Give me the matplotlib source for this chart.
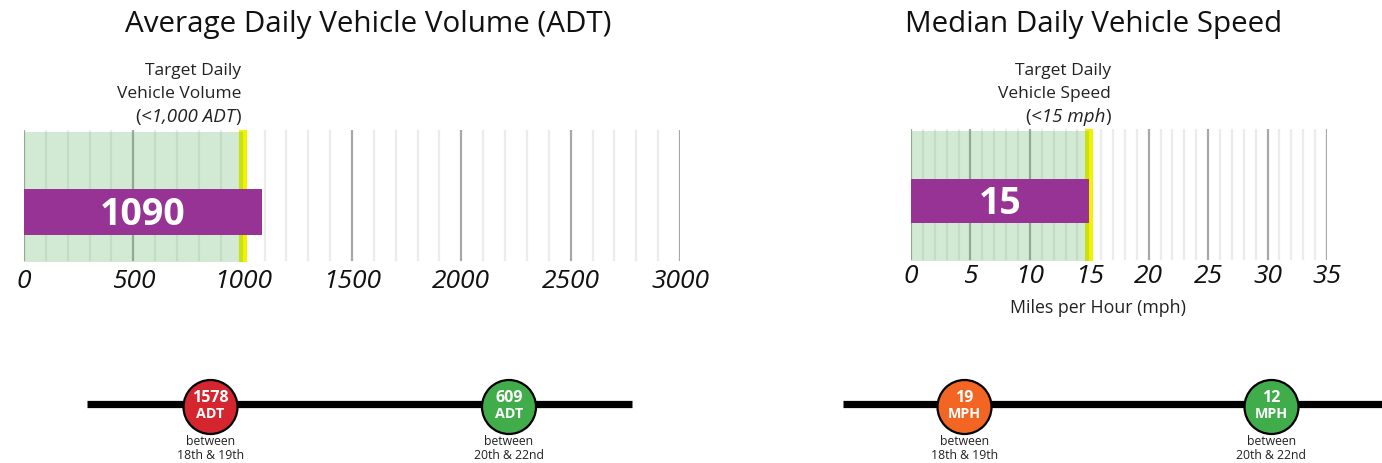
import numpy as np
import matplotlib
matplotlib.use("Agg")
import matplotlib.pyplot as plt
from matplotlib.patches import Circle

plt.rcParams['font.family'] = ['Open Sans', 'DejaVu Sans']

# ---------------- data ----------------
adt_title = "Average Daily Vehicle Volume (ADT)"
adt_value = 1090
adt_target = 1000
adt_ticks = [0, 500, 1000, 1500, 2000, 2500, 3000]
adt_minor_step = 100
adt_target_lines = ["Target Daily", "Vehicle Volume"]
adt_target_value_text = "<1,000 ADT"

speed_title = "Median Daily Vehicle Speed"
speed_value = 15
speed_target = 15
speed_ticks = [0, 5, 10, 15, 20, 25, 30, 35]
speed_minor_step = 1
speed_target_lines = ["Target Daily", "Vehicle Speed"]
speed_target_value_text = "<15 mph"
speed_axis_label = "Miles per Hour (mph)"

location_labels = ["between\n18th & 19th", "between\n20th & 22nd"]
adt_location_values = [1578, 609]
adt_location_colors = ["#d5262f", "#40ad4a"]
adt_unit = "ADT"
speed_location_values = [19, 12]
speed_location_colors = ["#f26522", "#40ad4a"]
speed_unit = "MPH"

# ---------------- styles ----------------
W, H = 1382, 464
PURPLE = "#963394"
MAJOR = "#a8a8a8"
MINOR = "#ececec"
SHADE = "#4caf50"
YELLOW = "#f2f200"

fig = plt.figure(figsize=(W / 100, H / 100), dpi=100)


def px_axes(x0, x1, y0, y1):
    return fig.add_axes([x0 / W, 1 - y1 / H, (x1 - x0) / W, (y1 - y0) / H])


def gauge(ax, ticks, step, value, target, bar_y0, bar_y1, pad):
    xmax = ticks[-1]
    ax.set_xlim(0, xmax)
    ax.set_ylim(0, 1)
    for m in np.arange(0, xmax + step / 2, step):
        major = any(np.isclose(m, t) for t in ticks)
        ax.axvline(m, ymin=0.015, ymax=1, color=MAJOR if major else MINOR,
                   lw=1.6, zorder=1)
    ax.axvline(target, ymin=0.015, ymax=1, color=YELLOW, lw=5.8, zorder=1.5)
    ax.axvspan(0, target, ymin=0, ymax=0.985, color=SHADE, alpha=0.25,
               lw=0, zorder=2)
    ax.barh((bar_y0 + bar_y1) / 2, value, height=bar_y1 - bar_y0, left=0,
            color=PURPLE, zorder=3, clip_on=False)
    ax.text(value / 2, (bar_y0 + bar_y1) / 2 + 0.02, f"{value}",
            color="white", fontsize=27, fontweight="bold", ha="center",
            va="center_baseline", zorder=4)
    ax.set_xticks(ticks)
    ax.set_xticklabels([str(t) for t in ticks], fontstyle="italic",
                       fontsize=19, color="#111111")
    ax.tick_params(axis="x", length=0, pad=pad)
    ax.set_yticks([])
    for s in ax.spines.values():
        s.set_visible(False)
    ax.patch.set_alpha(0)


# overlay in pixel coordinates for titles / annotations / street diagrams
ov = fig.add_axes([0, 0, 1, 1])
ov.set_xlim(0, W)
ov.set_ylim(H, 0)
ov.axis("off")
ov.set_zorder(0)

axL = px_axes(24, 680, 131, 263)
gauge(axL, adt_ticks, adt_minor_step, adt_value, adt_target,
      (263 - 236) / 132, (263 - 190) / 132, 4.5)
axR = px_axes(911, 1327, 130, 262)
gauge(axR, speed_ticks, speed_minor_step, speed_value, speed_target,
      (262 - 224) / 132, (262 - 180) / 132, 1.5)

# titles
ov.text(368, 32, adt_title, fontsize=21.3, ha="center", va="baseline",
        color="#111111")
ov.text(1094, 32, speed_title, fontsize=21.3, ha="center", va="baseline",
        color="#111111")

# target annotations


def target_note(x, lines, value_text):
    for i, line in enumerate(lines):
        ov.text(x, 75 + 23.3 * i, line, fontsize=12.5, ha="right",
                va="baseline", color="#222222")
    t1 = ov.text(x, 121.7, ")", fontsize=13.5, ha="right", va="baseline",
                 color="#222222")
    t2 = ov.annotate(value_text, xy=(0, 0), xycoords=t1, fontsize=13.5,
                     ha="right", va="bottom", fontstyle="italic",
                     color="#222222")
    ov.annotate("(", xy=(0, 0), xycoords=t2, fontsize=13.5, ha="right",
                va="bottom", color="#222222")


target_note(241, adt_target_lines, adt_target_value_text)
target_note(1111, speed_target_lines, speed_target_value_text)

ov.text(1098, 313, speed_axis_label, fontsize=12.8, ha="center",
        va="baseline", color="#222222")

# street diagrams


def street(x0, x1, centers, values, colors, unit):
    ov.plot([x0, x1], [404.5, 404.5], color="black", lw=5.2,
            solid_capstyle="butt", zorder=1)
    for cx, v, c, lab in zip(centers, values, colors, location_labels):
        ov.add_patch(Circle((cx, 408), 27, facecolor=c, edgecolor="black",
                            lw=1.6, zorder=2))
        ov.text(cx, 402, f"{v}", fontsize=11.5, fontweight="bold",
                color="white", ha="center", va="baseline", zorder=3)
        ov.text(cx, 418.5, unit, fontsize=10.3, fontweight="bold",
                color="white", ha="center", va="baseline", zorder=3)
        l1, l2 = lab.split("\n")
        ov.text(cx, 445, l1, fontsize=8.8, color="#222222", ha="center",
                va="baseline")
        ov.text(cx, 459.5, l2, fontsize=8.8, color="#222222", ha="center",
                va="baseline")


street(87, 632, [210.5, 509], adt_location_values, adt_location_colors,
       adt_unit)
street(843, 1382, [964.5, 1271.5], speed_location_values,
       speed_location_colors, speed_unit)

fig.savefig("out.png", dpi=100, facecolor="white")
